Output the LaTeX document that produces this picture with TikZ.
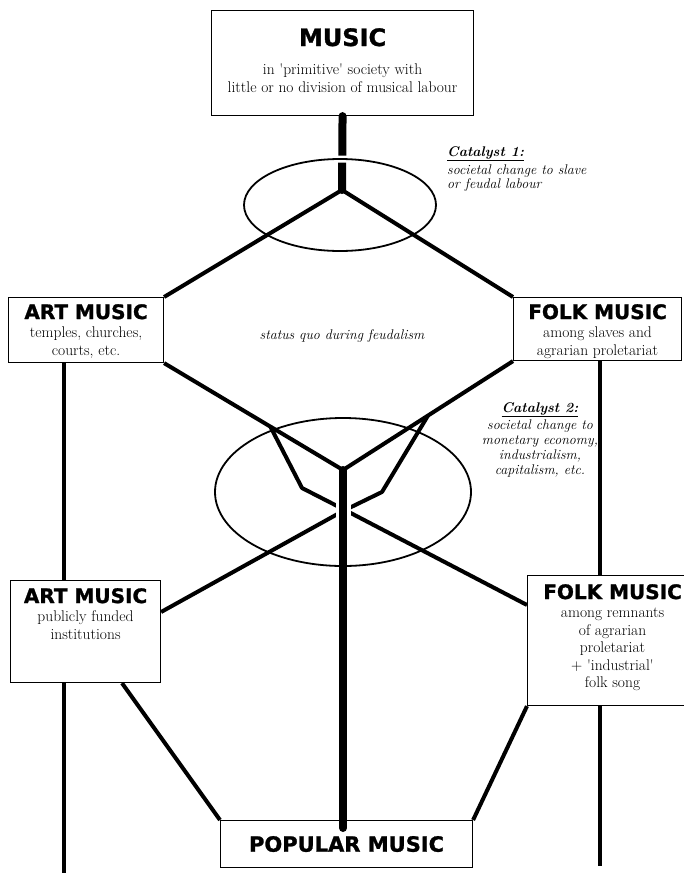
\documentclass[tikz,border=0pt]{standalone}
\usepackage{fontspec}
\newfontfamily\headfont{DejaVu Sans}[BoldFeatures={FakeBold=1.2}]
\newcommand{\hd}[1][20]{\headfont\bfseries\fontsize{#1}{#1}\selectfont}
\newcommand{\qt}{\textquotesingle}
\usetikzlibrary{calc}
\begin{document}
\begin{tikzpicture}[x=1pt,y=-1pt,
  box/.style={draw, line width=1.1pt, inner sep=0pt, anchor=north west},
  body/.style={font=\fontsize{15.5}{17.5}\selectfont, align=center, inner sep=0pt},
  cat/.style={font=\fontsize{14}{14}\selectfont\itshape, inner sep=0pt},
  link/.style={line width=4pt, line join=round},
  stemline/.style={line width=4pt},
  trunk/.style={line width=8pt, line cap=round},
  ring/.style={line width=1.8pt},
  ringhalo/.style={white, line width=7pt},
  halo/.style={white, line width=15pt}
]
\useasboundingbox (0,0) rectangle (683,873);

% boxes
\node[box, minimum width=262pt, minimum height=105pt] (music) at (211,10) {};
\node[box, minimum width=155pt, minimum height=65pt] (art1) at (8,297) {};
\node[box, minimum width=168pt, minimum height=63pt] (folk1) at (513,297) {};
\node[box, minimum width=150pt, minimum height=102pt] (art2) at (10,580) {};
\node[box, minimum width=170pt, minimum height=130pt] (folk2) at (527,575) {};
\node[box, minimum width=252pt, minimum height=47pt] (pop) at (220,820) {};

% texts
\node[body, anchor=north] (musict) at ($(music.north)+(0,18)$)
  {{\hd[24]MUSIC}\\[11pt] in \qt primitive\qt\ society with\\ little or no division of musical labour};
\node[body, anchor=north] (art1t) at ($(art1.north)+(0,7)$)
  {{\hd[20]ART MUSIC}\\[1pt] temples, churches,\\ courts, etc.};
\node[body, anchor=north] (folk1t) at ($(folk1.north)+(0,7)$)
  {{\hd[20]FOLK MUSIC}\\[1pt] among slaves and\\ agrarian proletariat};
\node[body, anchor=north] (art2t) at ($(art2.north)+(0,8)$)
  {{\hd[20]ART MUSIC}\\[1pt] publicly funded\\ institutions};
\node[body, anchor=north] (folk2t) at ($(folk2.north)+(0,9)$)
  {{\hd[20]FOLK MUSIC}\\[1pt] among remnants\\ of agrarian\\ proletariat\\ + \qt industrial\qt\\ folk song};
\node[body] (popt) at (pop.center) {\hd[21]POPULAR MUSIC};
\node[cat] (sq) at (342,336) {status quo during feudalism};
\node[cat, anchor=north west, align=left] (cat1) at (447,146)
  {{\bfseries\underline{Catalyst 1:}}\\[3pt] societal change to slave\\ or feudal labour};
\node[cat, anchor=north, align=center, font=\fontsize{14}{15}\selectfont\itshape] (cat2) at (540,402)
  {{\bfseries\underline{Catalyst 2:}}\\[2pt] societal change to\\ monetary economy,\\ industrialism,\\ capitalism, etc.};

% junctions and helper points
\coordinate (c1) at (340,205);
\coordinate (j1) at (342,190);
\coordinate (c2) at (343,492);
\coordinate (j2) at (343,470);
\coordinate (bL) at (302,488);
\coordinate (bR) at (382,492);
\coordinate (xc) at (343,509);
\coordinate (xc2) at (343,511);
\coordinate (abot) at (64,873);
\coordinate (fbot) at (600,866);

% top trunk and catalyst 1 ring
\draw[trunk] (music.south) -- (j1);
\draw[ringhalo] (c1) ellipse [x radius=96, y radius=46];
\draw[ring] (c1) ellipse [x radius=96, y radius=46];
\draw[link] (art1.north east) -- (j1) -- (folk1.north west);

% catalyst 2 ring
\draw[ring] (c2) ellipse [x radius=128, y radius=74];

% side stems
\draw[stemline] ($(art1.south west)+(56,0)$) -- ($(art2.north west)+(54,0)$);
\draw[stemline] ($(folk1.south west)+(87,0)$) -- ($(folk2.north west)+(73,0)$);
\draw[stemline] ($(art2.south west)+(54,0)$) -- (abot);
\draw[stemline] ($(folk2.south west)+(73,0)$) -- (fbot);

% crossing lines through catalyst 2
\draw[link] ($(art1.south east)!0.594!(j2)$) -- (bL) -- (xc) -- ($(folk2.north west)+(0,30)$);
\draw[link] ($(folk1.south west)!0.5!(j2)$) -- (bR) -- (xc2) -- ($(art2.north east)+(0,32)$);

% main lines into the trunk
\draw[link] (art1.south east) -- (j2) -- (folk1.south west);

% trunk to popular music
\draw[halo] ($(j2)+(0,30)$) -- ($(j2)+(0,52)$);
\draw[trunk] (j2) -- ($(j2 |- pop.north)+(0,8)$);

% lower links
\draw[link] ($(art2.south west)+(112,0)$) -- (pop.north west);
\draw[link] (folk2.south west) -- (pop.north east);
\end{tikzpicture}
\end{document}
